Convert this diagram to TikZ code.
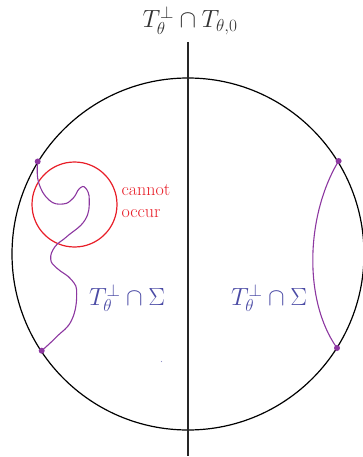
\documentclass[tikz,border=0pt]{standalone}
\usepackage{amsmath}
\definecolor{purp}{RGB}{140,55,160}
\definecolor{redc}{RGB}{232,30,40}
\definecolor{labblue}{RGB}{75,75,165}
\definecolor{topgray}{RGB}{50,50,50}
\tikzset{
  bigcirc/.style={draw=black, line width=1.2pt},
  axisline/.style={draw=black!85, line width=1.2pt},
  redcirc/.style={draw=redc, line width=1.2pt},
  purpcurve/.style={draw=purp, line width=1.1pt},
  pdot/.style={fill=purp},
  lab/.style={text=labblue, font=\fontsize{24}{28}\selectfont},
  toplab/.style={text=topgray, font=\fontsize{24}{28}\selectfont},
  redlab/.style={text=redc, font=\fontsize{18}{22}\selectfont, align=left},
}
\begin{document}
\begin{tikzpicture}[x=1pt,y=-1pt]
\useasboundingbox (0,0) rectangle (362,457);
% main circle
\coordinate (C) at (188,254);
\draw[bigcirc] (C) circle[radius=176pt];
% vertical axis
\coordinate (vtop) at (188,42);
\coordinate (vbot) at (188,456);
\draw[axisline] (vtop) -- (vbot);
\node[toplab] (toplabel) at (190,21) {$T_\theta^\perp\cap T_{\theta,0}$};
% red circle
\coordinate (R) at (74.5,204.5);
\draw[redcirc] (R) circle[radius=42.5pt];
\node[redlab, anchor=west] (cannot) at (118,201) {cannot\\occur};
% left curve
\coordinate (L1) at (37.7,161.5);
\coordinate (L2) at (41.7,350.7);
\draw[purpcurve] plot[smooth, tension=0.75] coordinates {(L1) (38.5,182) (49,200) (63,204) (73,198.3) (79.5,188.5) (85.5,188) (89.3,200) (85,220) (66.7,236.7) (55,246.7) (50.7,259) (56.7,268) (71.7,280) (76.7,294) (71.7,320) (56.7,336.7) (L2)};
% right curve
\coordinate (Ra) at (338.6,161);
\coordinate (Rb) at (337,348);
\draw[purpcurve] (Ra) .. controls (306,215) and (303,300) .. (Rb);
\foreach \p in {L1,L2,Ra,Rb} \fill[pdot] (\p) circle[radius=3pt];
% labels
\node[lab] (leftlab) at (127,298) {$T_\theta^\perp\cap\Sigma$};
\node[lab] (rightlab) at (269,298) {$T_\theta^\perp\cap\Sigma$};
% tiny stray dot
\fill[labblue!60] (161.5,361.5) circle[radius=0.7pt];
\end{tikzpicture}
\end{document}
